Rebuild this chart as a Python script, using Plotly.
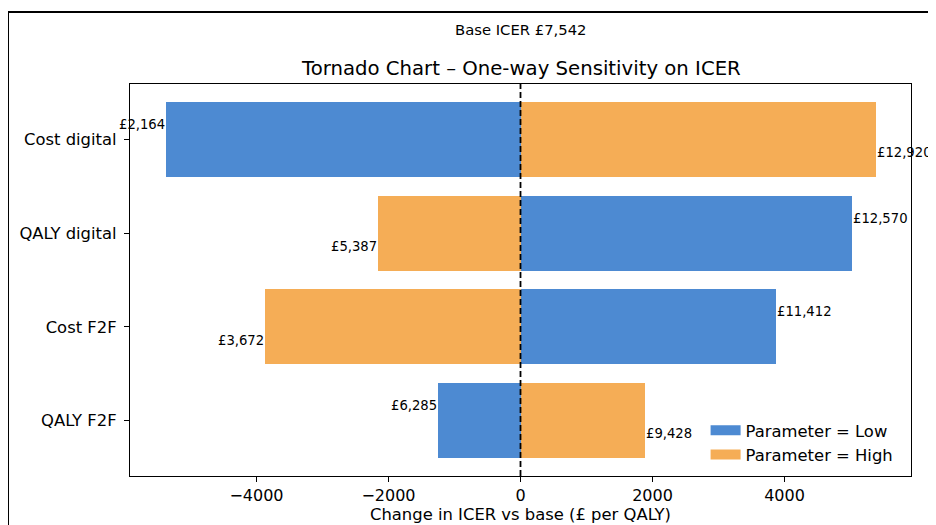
import plotly.graph_objects as go

params = ["Cost digital", "QALY digital", "Cost F2F", "QALY F2F"]
base_icer = 7542
icer_low = [2164, 12570, 11412, 6285]
icer_high = [12920, 5387, 3672, 9428]
xticks = [-4000, -2000, 0, 2000, 4000]
series_names = ["Parameter = Low", "Parameter = High"]

blue = "#4d8ad2"
orange = "#f5ad56"
font_family = "DejaVu Sans"

diff_low = [v - base_icer for v in icer_low]
diff_high = [v - base_icer for v in icer_high]
ypos = list(range(len(params)))

fig = go.Figure()
fig.add_trace(go.Bar(y=ypos, x=diff_low, orientation="h", width=0.8,
                     marker=dict(color=blue, line=dict(width=0)),
                     name=series_names[0], showlegend=False))
fig.add_trace(go.Bar(y=ypos, x=diff_high, orientation="h", width=0.8,
                     marker=dict(color=orange, line=dict(width=0)),
                     name=series_names[1], showlegend=False))
# legend entries drawn as wide patches (matplotlib style)
for nm, col in zip(series_names, [blue, orange]):
    fig.add_trace(go.Scatter(x=[None], y=[None], mode="lines", name=nm,
                             line=dict(color=col, width=11)))

annotations = []
for i in ypos:
    for d, v, dy in ((diff_low[i], icer_low[i], -0.16), (diff_high[i], icer_high[i], 0.14)):
        annotations.append(dict(
            x=d, y=i + dy, xref="x", yref="y", text=f"£{v:,}", showarrow=False,
            xanchor="right" if d < 0 else "left", yanchor="middle",
            xshift=0, borderpad=0,
            font=dict(size=13.2, color="black", family=font_family)))

annotations.append(dict(x=0.5, y=1.0, xref="paper", yref="paper", yshift=2,
                        text="Tornado Chart – One-way Sensitivity on ICER", showarrow=False,
                        xanchor="center", yanchor="bottom",
                        font=dict(size=19.7, color="black", family=font_family)))
annotations.append(dict(x=0.5, y=1.0, xref="paper", yref="paper", yshift=44,
                        text=f"Base ICER £{base_icer:,}", showarrow=False,
                        xanchor="center", yanchor="bottom",
                        font=dict(size=14.8, color="black", family=font_family)))

span = max(abs(min(diff_low + diff_high)), abs(max(diff_low + diff_high)))
pad = 0.05 * 2 * span

fig.update_layout(
    width=928, height=517,
    margin=dict(l=122, r=25, t=76, b=49, autoexpand=False),
    paper_bgcolor="white", plot_bgcolor="white",
    barmode="overlay", bargap=0,
    font=dict(family=font_family, color="black", size=16.4),
    showlegend=True,
    legend=dict(x=0.737, y=0.01, xanchor="left", yanchor="bottom",
                bgcolor="rgba(255,255,255,0)", font=dict(size=16.4),
                traceorder="normal", itemwidth=30, tracegroupgap=0),
    annotations=annotations,
    shapes=[
        dict(type="line", xref="x", yref="paper", x0=0, x1=0, y0=0, y1=1,
             line=dict(color="black", width=1.8, dash="6px,3px")),
        dict(type="rect", xref="paper", yref="paper", x0=-0.1562, x1=1.2,
             y0=-0.3, y1=1.1837, line=dict(color="black", width=2)),
    ],
)
fig.update_xaxes(range=[-span - pad, span + pad], tickvals=xticks,
                 ticktext=[f"{t}".replace("-", "−") for t in xticks],
                 showline=True, linecolor="black", linewidth=1.2, mirror=True,
                 ticks="outside", ticklen=5, tickcolor="black", showgrid=False,
                 zeroline=False, tickfont=dict(size=16), ticklabelstandoff=0,
                 automargin=False,
                 title=dict(text="Change in ICER vs base (£ per QALY)", standoff=2,
                            font=dict(size=16.4)))
fig.update_yaxes(range=[len(params) - 1 + 0.59, -0.59], tickvals=ypos, ticktext=params,
                 showline=True, linecolor="black", linewidth=1.2, mirror=True,
                 ticks="outside", ticklen=5, tickcolor="black", showgrid=False,
                 zeroline=False, tickfont=dict(size=16.4), ticklabelstandoff=4,
                 automargin=False)

fig.write_html("out.html")
